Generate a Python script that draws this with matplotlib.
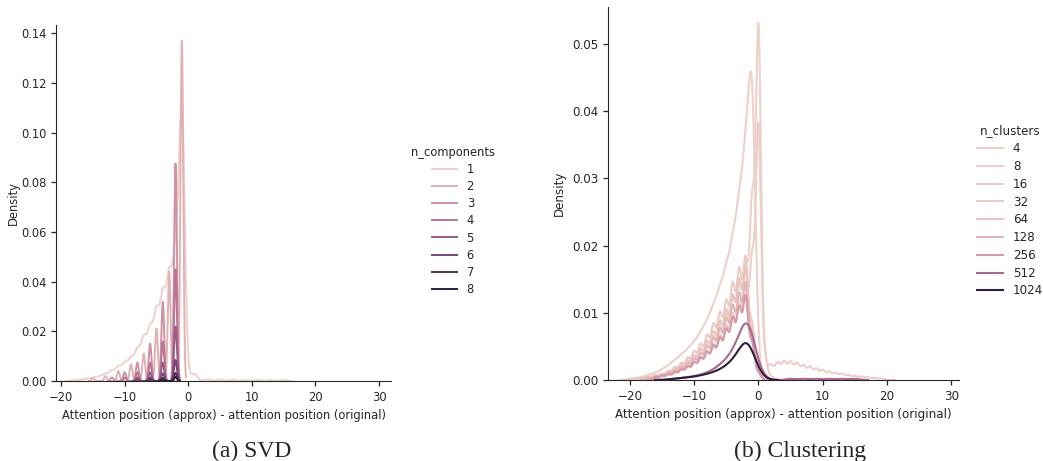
import numpy as np
import matplotlib
matplotlib.use('Agg')
import matplotlib.pyplot as plt
from matplotlib.lines import Line2D
from matplotlib.colors import Normalize
import seaborn as sns

# (a) SVD: share of attention at each offset, one list per n_components
svd_levels = [1, 2, 3, 4, 5, 6, 7, 8]
svd_offsets = [
    [-18, -17, -16, -15, -14, -13, -12, -11, -10, -9, -8, -7, -6, -5, -4, -3, -2, -1, 0, 1, 3, 5, 7, 9, 11, 13, 15],
    [-15, -13, -11, -9, -7, -5, -3, -1],
    [-12, -10, -8, -6, -4, -2],
    [-10, -8, -6, -4, -2],
    [-8, -6, -4, -2],
    [-8, -6, -4, -2],
    [-6, -4, -2],
    [-4, -2],
]
svd_shares = [
    [0.0003, 0.0005, 0.0009, 0.0014, 0.002, 0.003, 0.0042, 0.006, 0.0075, 0.0095, 0.013, 0.018, 0.022,
     0.029, 0.036, 0.044, 0.054, 0.122, 0.002, 0.003, 0.0008, 0.0007, 0.0006, 0.0005, 0.0005, 0.0004, 0.0004],
    [0.0006, 0.0011, 0.0022, 0.0037, 0.0061, 0.0116, 0.0243, 0.0756],
    [0.0008, 0.0019, 0.0041, 0.0083, 0.0176, 0.0483],
    [0.0008, 0.0019, 0.0041, 0.0088, 0.0248],
    [0.0008, 0.0019, 0.0041, 0.0121],
    [0.0003, 0.0008, 0.0017, 0.0047],
    [0.0003, 0.0007, 0.0018],
    [0.0003, 0.0009],
]
svd_bw = [0.45, 0.22, 0.22, 0.22, 0.22, 0.22, 0.22, 0.22]

# (b) Clustering: one list per n_clusters
cl_levels = [4, 8, 16, 32, 64, 128, 256, 512, 1024]
cl_offsets = [
    [-20, -19, -18, -17, -16, -15, -14, -13, -12, -11, -10, -9, -8, -7, -6, -5, -4, -3, -2, -1, 0, 1],
    [-18, -17, -16, -15, -14, -13, -12, -11, -10, -9, -8, -7, -6, -5, -4, -3, -2, -1, 0, 1, 2],
    [-16, -15, -14, -13, -12, -11, -10, -9, -8, -7, -6, -5, -4, -3, -2, -1, 0, 1, 2, 3, 4, 5, 6, 7, 8, 9,
     10, 11, 12, 13, 14, 15, 16, 17, 18, 19, 20],
    [-19, -18, -17, -16, -15, -14, -13, -12, -11, -10, -9, -8, -7, -6, -5, -4, -3, -2, -1, 0],
    [-18, -17, -16, -15, -14, -13, -12, -11, -10, -9, -8, -7, -6, -5, -4, -3, -2, -1, 0],
    [-17, -16, -15, -14, -13, -12, -11, -10, -9, -8, -7, -6, -5, -4, -3, -2, -1, 0],
    [-16, -15, -14, -13, -12, -11, -10, -9, -8, -7, -6, -5, -4, -3, -2, -1, 0],
    [-14, -13, -12, -11, -10, -9, -8, -7, -6, -5, -4, -3, -2, -1, 0, 1, 5, 7, 9, 11, 13, 15],
    [-14, -13, -12, -11, -10, -9, -8, -7, -6, -5, -4, -3, -2, -1, 0, 1],
]
cl_shares = [
    [0.0002, 0.0003, 0.0005, 0.0008, 0.0011, 0.0016, 0.0022, 0.003, 0.0038, 0.0047, 0.0057, 0.0072, 0.009,
     0.0113, 0.014, 0.0172, 0.0215, 0.028, 0.036, 0.054, 0.001, 0.0002],
    [0.0002, 0.0003, 0.0005, 0.0007, 0.001, 0.0013, 0.0018, 0.0024, 0.003, 0.0038, 0.0048, 0.006, 0.0075,
     0.009, 0.0115, 0.014, 0.016, 0.025, 0.052, 0.003, 0.0005],
    [0.0003, 0.0005, 0.0007, 0.001, 0.0014, 0.0019, 0.0025, 0.0032, 0.004, 0.005, 0.0062, 0.0076, 0.0092,
     0.011, 0.013, 0.017, 0.0375, 0.003, 0.0021, 0.0025, 0.0027, 0.0026, 0.0024, 0.0021, 0.0019, 0.0016,
     0.0014, 0.0012, 0.001, 0.0009, 0.0007, 0.0006, 0.0005, 0.0004, 0.0003, 0.0002, 0.0001],
    [0.0002, 0.0003, 0.0005, 0.0007, 0.0009, 0.0013, 0.0018, 0.0024, 0.0031, 0.004, 0.005, 0.0062, 0.0078,
     0.0094, 0.011, 0.0135, 0.0155, 0.0175, 0.008, 0.0015],
    [0.0003, 0.0004, 0.0006, 0.0008, 0.0011, 0.0016, 0.0021, 0.0027, 0.0034, 0.0043, 0.0054, 0.0067, 0.0082,
     0.0097, 0.0118, 0.0138, 0.0157, 0.007, 0.0013],
    [0.0003, 0.0005, 0.0007, 0.001, 0.0013, 0.0018, 0.0023, 0.003, 0.0037, 0.0047, 0.0058, 0.0071, 0.0085,
     0.0103, 0.012, 0.0138, 0.0062, 0.0012],
    [0.0004, 0.0006, 0.0008, 0.0011, 0.0015, 0.0019, 0.0025, 0.0031, 0.0039, 0.0048, 0.0059, 0.0071, 0.0087,
     0.0102, 0.012, 0.0053, 0.001],
    [0.0001, 0.0002, 0.0003, 0.0004, 0.0006, 0.0008, 0.0011, 0.0016, 0.0023, 0.0032, 0.0045, 0.0068, 0.0095,
     0.0075, 0.0025, 0.0005, 0.0003, 0.0003, 0.0003, 0.0003, 0.0003, 0.0003],
    [0.0001, 0.0002, 0.0003, 0.0004, 0.0005, 0.0007, 0.0009, 0.0012, 0.0016, 0.0022, 0.0031, 0.0046, 0.0062,
     0.0047, 0.0017, 0.0004],
]
cl_bw = [0.55, 0.4, 0.4, 0.4, 0.4, 0.4, 0.4, 0.7, 0.7]

plt.rcParams['font.family'] = 'DejaVu Sans'
plt.rcParams['axes.edgecolor'] = '#262626'
plt.rcParams['text.color'] = '#262626'
plt.rcParams['axes.labelcolor'] = '#262626'
plt.rcParams['xtick.color'] = '#262626'
plt.rcParams['ytick.color'] = '#262626'

cmap = sns.cubehelix_palette(as_cmap=True)


def kde(x, offs, shares, bw):
    offs = np.asarray(offs, float)[:, None]
    w = np.asarray(shares, float)[:, None]
    return (w * np.exp(-0.5 * ((x - offs) / bw) ** 2) / (bw * np.sqrt(2 * np.pi))).sum(axis=0)


def panel(ax, levels, offsets, shares, bws, xlim, ylim, yticks, fs, lw):
    norm = Normalize(min(levels), max(levels))
    for lev, o, s, bw in zip(levels, offsets, shares, bws):
        x = np.linspace(min(o) - 3 * bw, max(o) + 3 * bw, 1500)
        ax.plot(x, kde(x, o, s, bw), color=cmap(norm(lev)), lw=lw)
    ax.set_xlim(*xlim)
    ax.set_ylim(*ylim)
    ax.set_xticks([-20, -10, 0, 10, 20, 30])
    ax.set_yticks(yticks)
    ax.spines['top'].set_visible(False)
    ax.spines['right'].set_visible(False)
    ax.tick_params(labelsize=fs, length=3.5, width=0.9)
    ax.set_xlabel('Attention position (approx) - attention position (original)', fontsize=fs)
    ax.set_ylabel('Density', fontsize=fs)
    handles = [Line2D([], [], color=cmap(norm(lev)), lw=lw) for lev in levels]
    return handles, [str(lev) for lev in levels]


fig = plt.figure(figsize=(10.43, 4.61), dpi=100)
ax1 = fig.add_axes([56 / 1043, 80 / 461, 335 / 1043, 356 / 461])
ax2 = fig.add_axes([608 / 1043, 81 / 461, 351 / 1043, 373 / 461])

h1, l1 = panel(ax1, svd_levels, svd_offsets, svd_shares, svd_bw, (-20.8, 31.9), (0, 0.1434),
               np.arange(0, 0.141, 0.02), 8.3, 1.4)
h2, l2 = panel(ax2, cl_levels, cl_offsets, cl_shares, cl_bw, (-23.4, 31.2), (0, 0.0555),
               np.arange(0, 0.051, 0.01), 8.6, 1.5)
ax1.yaxis.labelpad = 1

fig.legend(h1, l1, title='n_components', loc='center', bbox_to_anchor=(453 / 1043, 1 - 221 / 461),
           frameon=False, fontsize=8.3, title_fontsize=8.3, handlelength=2.2, labelspacing=0.35)
fig.legend(h2, l2, title='n_clusters', loc='center', bbox_to_anchor=(1010 / 1043, 1 - 211 / 461),
           frameon=False, fontsize=8.6, title_fontsize=8.6, handlelength=2.2, labelspacing=0.4)

fig.text(252 / 1043, 1 - 451 / 461, '(a) SVD', ha='center', va='center',
         family='Liberation Serif', size=17)
fig.text(800 / 1043, 1 - 451 / 461, '(b) Clustering', ha='center', va='center',
         family='Liberation Serif', size=17)

fig.savefig('out.png', dpi=100)
